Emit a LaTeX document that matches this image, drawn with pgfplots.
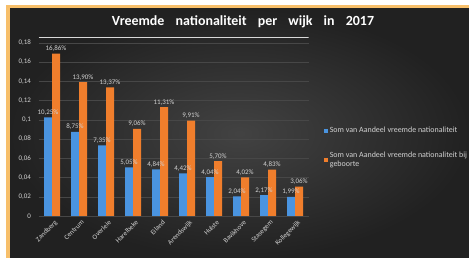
\documentclass[border=0pt]{standalone}
\usepackage{pgfplots}
\pgfplotsset{compat=1.18}
\usepackage{fontspec}
\setmainfont{Carlito}
\definecolor{framec}{HTML}{F7BF6A}
\definecolor{barblue}{HTML}{4A94E0}
\definecolor{barorange}{HTML}{F07E2C}
\definecolor{txt}{HTML}{D2D2D2}
\definecolor{gridc}{HTML}{474747}
\begin{document}
\begin{tikzpicture}
\useasboundingbox (0,0) rectangle (469bp,258bp);
\fill[white] (0,0) rectangle (469bp,258bp);
\fill[framec] (6bp,0) rectangle (469bp,253bp);
\shade[inner color=black!74, outer color=black!87] (10bp,0) rectangle (469bp,249bp);
\node[font=\bfseries\fontsize{14}{16}\selectfont, text=white] at (243bp,236bp)
  {Vreemde\hspace{0.8em}nationaliteit\hspace{0.8em}per\hspace{0.8em}wijk\hspace{0.8em}in\hspace{0.8em}2017};
\begin{axis}[
  at={(38.5bp,42bp)}, anchor=south west, scale only axis,
  width=270bp, height=179bp,
  ybar=0pt, bar width=8bp,
  xmin=-0.5, xmax=9.5, ymin=0, ymax=0.186,
  xtick=data,
  xticklabels={Zandberg,Centrum,Overleie,Harelbeke,Eiland,Arendswijk,Hulste,Bavikhove,Stasegem,Kollegewijk},
  ytick={0,0.02,0.04,0.06,0.08,0.1,0.12,0.14,0.16,0.18},
  scaled y ticks=false,
  /pgf/number format/fixed,
  /pgf/number format/use comma,
  /pgf/number format/precision=2,
  /pgf/number format/assume math mode=true,
  ticklabel style={font=\fontsize{7}{8}\selectfont, text=txt},
  yticklabel style={anchor=east, xshift=-4bp},
  xticklabel style={rotate=45, anchor=north east, inner sep=1bp, yshift=-3bp},
  major tick length=0pt,
  axis line style={draw=none},
  ymajorgrids, grid style={gridc, line width=0.5bp},
  nodes near coords={\pgfmathprintnumber[fixed,fixed zerofill,precision=2,use comma]{\pgfplotspointmeta}\%},
  point meta={y*100},
  every node near coord/.append style={font=\fontsize{7}{8}\selectfont, text=txt, inner sep=2bp},
  legend style={at={(1.045,0.52)}, anchor=north west, draw=none, fill=none,
    font=\fontsize{8}{9}\selectfont, text=txt, row sep=14bp,
    cells={anchor=west, align=left}},
  legend cell align=left,
]
\addplot[fill=barblue, draw=none, legend image code/.code={\fill[barblue] (0bp,-2bp) rectangle (4bp,2bp);}]
  coordinates {(0,0.1025) (1,0.0875) (2,0.0735) (3,0.0505) (4,0.0484) (5,0.0442) (6,0.0404) (7,0.0204) (8,0.0217) (9,0.0199)};
\addlegendentry{Som van Aandeel vreemde nationaliteit}
\addplot[fill=barorange, draw=none, legend image code/.code={\fill[barorange] (0bp,-2bp) rectangle (4bp,2bp);}]
  coordinates {(0,0.1686) (1,0.1390) (2,0.1337) (3,0.0906) (4,0.1131) (5,0.0991) (6,0.0570) (7,0.0402) (8,0.0483) (9,0.0306)};
\addlegendentry{{Som van Aandeel vreemde nationaliteit bij\\geboorte}}
\draw[black!50, line width=0.7bp] (rel axis cs:0,0) -- (rel axis cs:1,0);
\draw[white!85!black, line width=0.7bp] (rel axis cs:0,1) -- (rel axis cs:1.01,1);
\end{axis}
\end{tikzpicture}
\end{document}
